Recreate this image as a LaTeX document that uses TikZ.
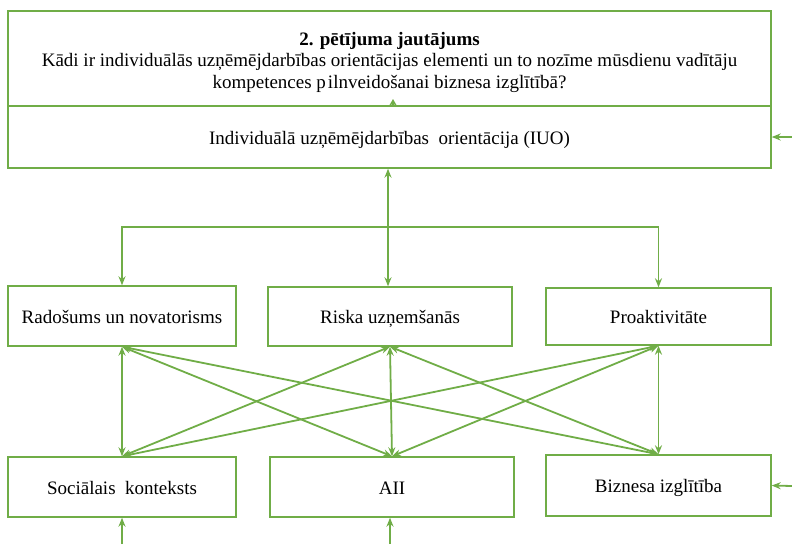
\documentclass[tikz,border=0pt]{standalone}
\usepackage{fontspec}
\setmainfont{Liberation Serif}
\usetikzlibrary{arrows.meta}
\definecolor{gr}{HTML}{70AD47}
\begin{document}
\begin{tikzpicture}[x=1pt,y=-1pt,
 box/.style={draw=gr, line width=1.4pt, rectangle, inner sep=0pt, align=center, font=\fontsize{19}{22}\selectfont},
 one/.style={box, text height=18pt, text depth=4pt},
 txt/.style={inner sep=0pt, align=center, font=\fontsize{19}{22}\selectfont},
 conn/.style={draw=gr, line width=1.8pt, -{Stealth[length=9pt,width=7pt]}},
 both/.style={draw=gr, line width=1.8pt, {Stealth[length=9pt,width=7pt]}-{Stealth[length=9pt,width=7pt]}}]
\useasboundingbox (0,0) rectangle (792,544);
\node[box, minimum width=763pt, minimum height=95pt] (q) at (389.5,58.5) {};
\node[txt] (qt) at (389.5,62) 
 {\textbf{2. pētījuma jautājums}\\[-1pt]
  Kādi ir individuālās uzņēmējdarbības orientācijas elementi un to nozīme mūsdienu vadītāju\\
  kompetences p\hspace{2pt}ilnveidošanai biznesa izglītībā?};
\node[one, minimum width=763pt, minimum height=62pt] (iuo) at (389.5,137) {Individuālā uzņēmējdarbības\ \ orientācija (IUO)};
\node[one, minimum width=228pt, minimum height=60pt] (rad) at (122,316) {Radošums un novatorisms};
\node[one, minimum width=244pt, minimum height=59pt] (ris) at (390,316.5) {Riska uzņemšanās};
\node[one, minimum width=225pt, minimum height=57pt] (pro) at (658.5,316.5) {Proaktivitāte};
\node[one, minimum width=228pt, minimum height=60pt] (soc) at (122,487) {Sociālais\ \ konteksts};
\node[one, minimum width=244pt, minimum height=60pt] (aii) at (392,487) {AII};
\node[one, minimum width=225pt, minimum height=61pt] (biz) at (658.5,485.5) {Biznesa izglītība};
% tree from IUO
\coordinate (j) at (388,227);
\draw[conn] (j) -- (j |- iuo.south);
\draw[conn] (j) -| (rad.north);
\draw[conn] (j) -- (j |- ris.north);
\draw[conn] (j) -| (pro.north);
% small tip into question box
\coordinate (t0) at (393,106);
\coordinate (t1) at (393,99);
\draw[draw=gr, line width=1.2pt, -{Stealth[length=7pt,width=8pt]}] (t0) -- (t1);
% side inputs
\coordinate (r1) at (792,137);
\coordinate (r2) at (792,486);
\draw[conn] (r1) -- (iuo.east);
\draw[conn] (r2) -- (biz.east);
\coordinate (b1) at (122,544);
\coordinate (b2) at (390,544);
\draw[conn] (b1) -- (soc.south);
\draw[conn] (b2) -- (b2 |- aii.south);
% cross links
\foreach \a in {rad,ris,pro}{
  \foreach \b in {soc,aii,biz}{
    \draw[both] (\a.south) -- (\b.north);
  }
}
\end{tikzpicture}
\end{document}
